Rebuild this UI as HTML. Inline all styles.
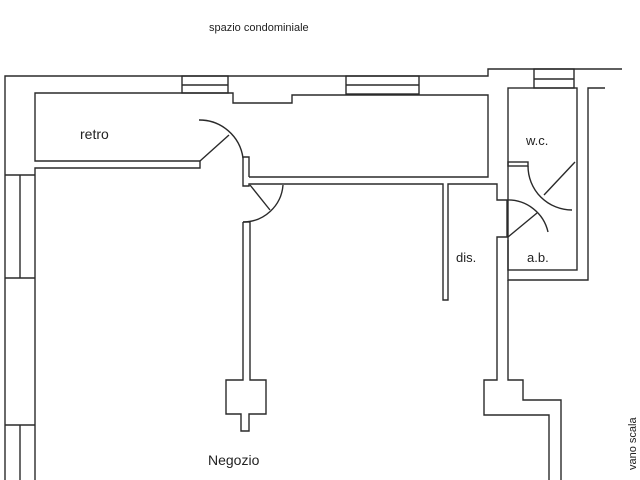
<!DOCTYPE html>
<html><head><style>
html,body{margin:0;padding:0;background:#fff;}
svg{display:block;}
text{font-family:"Liberation Sans",sans-serif;fill:#222;}
</style></head><body>
<svg width="640" height="480" viewBox="0 0 640 480" xmlns="http://www.w3.org/2000/svg">
<g fill="none" stroke="#2a2a2a" stroke-width="1.4">
<!-- outer top -->
<polyline points="5,480 5,76 488,76 488,69 622,69"/>
<!-- top windows -->
<rect x="182" y="76" width="46" height="17"/><line x1="182" y1="85" x2="228" y2="85"/>
<rect x="346" y="76" width="73" height="18"/><line x1="346" y1="85" x2="419" y2="85"/>
<rect x="534" y="69" width="40" height="19"/><line x1="534" y1="79" x2="574" y2="79"/>
<!-- retro inner -->
<polyline points="200,161 35,161 35,93 233,93 233,103 292,103 292,95 488,95 488,177 249,177"/>
<polyline points="200,161 200,168 35,168 35,480"/>
<!-- left windows -->
<line x1="5" y1="175" x2="35" y2="175"/><line x1="5" y1="278" x2="35" y2="278"/><line x1="20" y1="175" x2="20" y2="278"/>
<line x1="5" y1="425" x2="35" y2="425"/><line x1="20" y1="425" x2="20" y2="480"/>
<!-- stub and corridor wall -->
<polyline points="243,157 249,157 249,177"/>
<polyline points="243,157 243,186 249,186 249,184 443,184 443,300 448,300 448,184 497,184 497,200 507,200"/>
<!-- door 1 -->
<path d="M199,120 A44,44 0 0 1 243,158"/>
<line x1="200" y1="161" x2="229" y2="135"/>
<!-- door 2 -->
<path d="M283,185 A40,40 0 0 1 243,222"/>
<line x1="250" y1="185" x2="270" y2="210"/>
<!-- column -->
<polyline points="243,222 250,222"/>
<polyline points="243,222 243,380 226,380 226,414 241,414 241,431 249,431 249,414 266,414 266,380 250,380 250,222"/>
<!-- bathroom -->
<rect x="508" y="88" width="69" height="182"/>
<rect x="508" y="162" width="20" height="4"/>
<polyline points="507,200 507,237 497,237 497,380 484,380 484,415 549,415 549,480"/>
<polyline points="508,240 508,280 588,280 588,88 605,88"/>
<polyline points="508,280 508,380 523,380 523,400 561,400 561,480"/>
<!-- wc door -->
<path d="M528,166 A44,44 0 0 0 572,210"/>
<line x1="544" y1="195" x2="575" y2="162"/>
<!-- ab door -->
<path d="M507,200 A41,41 0 0 1 548,232"/>
<line x1="508" y1="237" x2="537" y2="213"/>
</g>
<text x="209" y="31" font-size="11">spazio condominiale</text>
<text x="80" y="139" font-size="14">retro</text>
<text x="526" y="145" font-size="13">w.c.</text>
<text x="456" y="262" font-size="13">dis.</text>
<text x="527" y="262" font-size="13">a.b.</text>
<text x="208" y="465" font-size="14">Negozio</text>
<text transform="translate(636,470) rotate(-90)" font-size="11">vano scala</text>
</svg>
</body></html>
